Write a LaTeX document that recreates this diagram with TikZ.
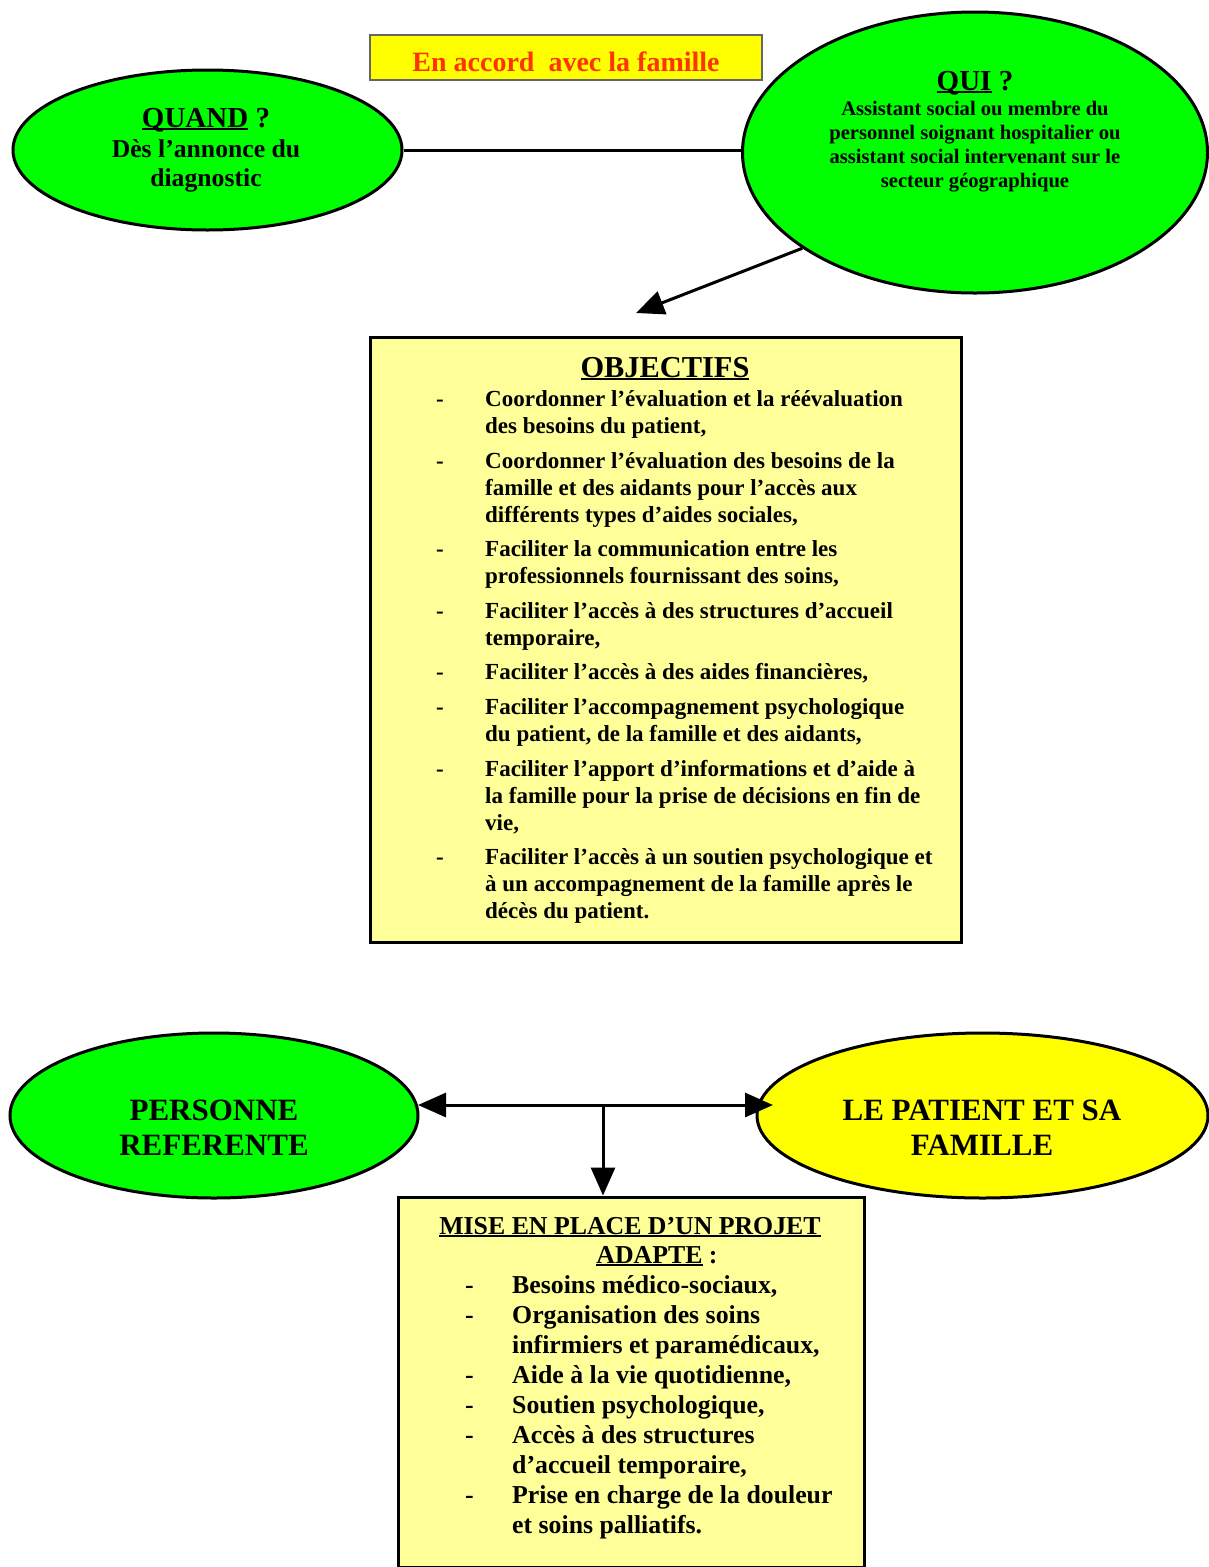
\documentclass[tikz,border=0pt]{standalone}
\usepackage{fontspec}
\setmainfont{Liberation Serif}
\usetikzlibrary{shapes.geometric,arrows.meta}
\definecolor{vert}{HTML}{00FF00}
\definecolor{jaune}{HTML}{FFFF00}
\definecolor{pale}{HTML}{FFFF99}
\definecolor{rouge}{HTML}{FF3300}
\newcommand{\fs}[1]{\fontsize{#1}{#1}\selectfont\bfseries}
\newcommand{\ulx}[1]{\setbox0\hbox{#1}\rlap{\rule[-3.2pt]{\wd0}{1.8pt}}\box0\relax}
\begin{document}
\begin{tikzpicture}[x=1pt,y=-1pt,
  bubble/.style={ellipse,draw=black,line width=3pt,inner sep=0pt},
  panel/.style={rectangle,draw=black,line width=3pt,fill=pale,inner sep=0pt},
  txt/.style={inner sep=0pt,anchor=base},
  ltxt/.style={inner sep=0pt,anchor=base west},
  conn/.style={line width=3pt},
  bigtip/.style={-{Triangle[length=28pt,width=24pt]}},
  bothtip/.style={{Triangle[length=28pt,width=24pt]}-{Triangle[length=28pt,width=24pt]}}]
\useasboundingbox (0,0) rectangle (1209,1567);
\clip (0,0) rectangle (1209,1567);
\fill[white] (0,0) rectangle (1209,1567);

% top banner
\node[draw=black!60,line width=1.5pt,fill=jaune,minimum width=392pt,minimum height=45pt,inner sep=0pt] (accord) at (566,57.5) {};
\node[txt,text=rouge,font=\fs{28}] (accordtxt) at (566,71) {En accord\ \ avec la famille};

% ellipses top
\node[bubble,fill=vert,minimum width=389pt,minimum height=160pt] (quand) at (207.5,150) {};
\node[bubble,fill=vert,minimum width=465pt,minimum height=281pt] (qui) at (975,152.5) {};

\node[txt,font=\fs{29}] (quandt) at (206,127) {\ulx{QUAND} ?};
\node[txt,font=\fs{25.7}] (quand1) at (206,157) {Dès l’annonce du};
\node[txt,font=\fs{25.7}] (quand2) at (206,186) {diagnostic};

\node[txt,font=\fs{29}] (quit) at (975,90) {\ulx{QUI} ?};
\foreach \yy/\tt [count=\i] in {115/Assistant social ou membre du,139/personnel soignant hospitalier ou,163/assistant social intervenant sur le,187/secteur géographique}
  \node[txt,font=\fs{20.6}] (qui\i) at (975,\yy) {\tt};

\draw[conn] (quand.east) -- (quand.east -| qui.west);
\coordinate (objtip) at (636,313);
\draw[conn,bigtip] (qui.209) -- (objtip);

% objectives box
\node[panel,minimum width=591pt,minimum height=605pt] (obj) at (665.5,639.5) {};
\node[txt,font=\fs{30.4}] (objt) at (665,377) {\ulx{OBJECTIFS}};
\foreach \yy [count=\i] in {406,468,556,618,679,714,776,864}
  \node[ltxt,font=\fs{23}] (od\i) at (436,\yy) {-};
\foreach \yy/\tt [count=\i] in {
  406/{Coordonner l’évaluation et la réévaluation},
  433/{des besoins du patient,},
  468/{Coordonner l’évaluation des besoins de la},
  495/{famille et des aidants pour l’accès aux},
  522/{différents types d’aides sociales,},
  556/{Faciliter la communication entre les},
  583/{professionnels fournissant des soins,},
  618/{Faciliter l’accès à des structures d’accueil},
  645/{temporaire,},
  679/{Faciliter l’accès à des aides financières,},
  714/{Faciliter l’accompagnement psychologique},
  741/{du patient, de la famille et des aidants,},
  776/{Faciliter l’apport d’informations et d’aide à},
  803/{la famille pour la prise de décisions en fin de},
  830/{vie,},
  864/{Faciliter l’accès à un soutien psychologique et},
  891/{à un accompagnement de la famille après le},
  918/{décès du patient.}}
  \node[ltxt,font=\fs{23}] (ol\i) at (485,\yy) {\tt};

% bottom ellipses
\node[bubble,fill=vert,minimum width=408pt,minimum height=165pt] (pers) at (214,1115.5) {};
\node[bubble,fill=jaune,minimum width=451pt,minimum height=165pt] (pat) at (982.5,1115.5) {};
\node[txt,font=\fs{31}] (pers1) at (214,1120) {PERSONNE};
\node[txt,font=\fs{31}] (pers2) at (214,1155) {REFERENTE};
\node[txt,font=\fs{31}] (pat1) at (982,1120) {LE PATIENT ET SA};
\node[txt,font=\fs{31}] (pat2) at (982,1155) {FAMILLE};

% bottom box
\node[panel,minimum width=466pt,minimum height=370pt] (mise) at (631,1382) {};
\node[txt,font=\fs{25.8}] (miset1) at (630,1234) {\ulx{MISE EN PLACE D’UN PROJET}};
\node[txt,font=\fs{25.8}] (miset2) at (657,1263) {\ulx{ADAPTE} :};
\foreach \yy [count=\i] in {1293,1323,1383,1413,1443,1503}
  \node[ltxt,font=\fs{25.8}] (md\i) at (465,\yy) {-};
\foreach \yy/\tt [count=\i] in {
  1293/{Besoins médico-sociaux,},
  1323/{Organisation des soins},
  1353/{infirmiers et paramédicaux,},
  1383/{Aide à la vie quotidienne,},
  1413/{Soutien psychologique,},
  1443/{Accès à des structures},
  1473/{d’accueil temporaire,},
  1503/{Prise en charge de la douleur},
  1533/{et soins palliatifs.}}
  \node[ltxt,font=\fs{25.8}] (ml\i) at (512,\yy) {\tt};

% connectors bottom
\coordinate (la) at (418,1105);
\coordinate (ra) at (773,1105);
\coordinate (mid) at (603,1105);
\draw[conn,bothtip] (la) -- (ra);
\draw[conn,bigtip] (mid) -- (mid |- mise.north);
\end{tikzpicture}
\end{document}
